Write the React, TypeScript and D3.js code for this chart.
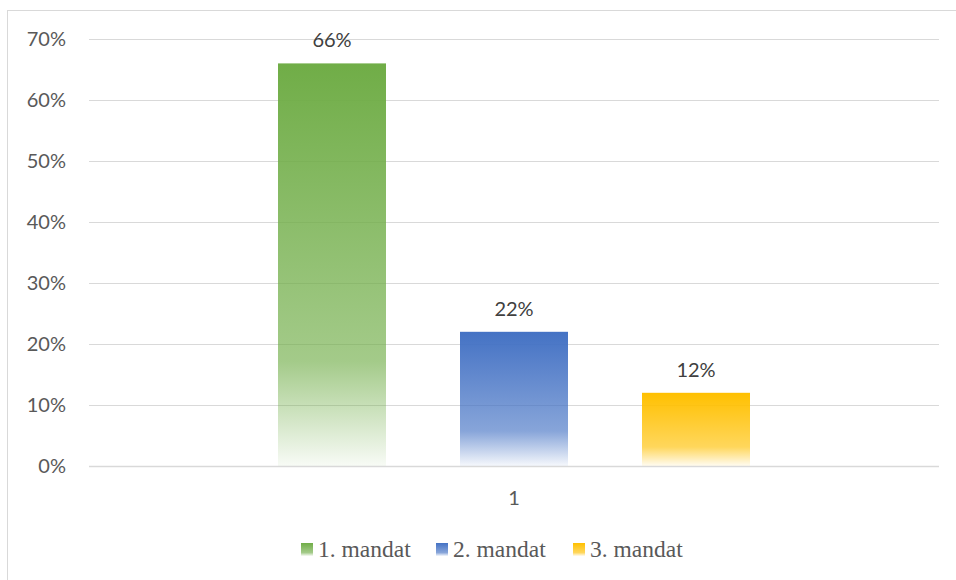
import React from "react";
import * as d3 from "d3";

const categories = ["1"];
const seriesNames = ["1. mandat", "2. mandat", "3. mandat"];
const seriesValues = [0.66, 0.22, 0.12];
const seriesColors = ["#70AD47", "#4472C4", "#FFC000"];
const yTicks = [0, 0.1, 0.2, 0.3, 0.4, 0.5, 0.6, 0.7];

const W = 956;
const H = 580;
const plot = { left: 89, right: 939, top: 39, bottom: 466 };

export default function App() {
  const y = d3.scaleLinear().domain([0, 0.7]).range([plot.bottom, plot.top]);
  const x0 = d3
    .scaleBand()
    .domain(categories)
    .range([plot.left, plot.right])
    .paddingInner(0)
    .paddingOuter(0);
  const groupWidth = 472;
  const x1 = d3
    .scaleBand()
    .domain(seriesNames)
    .range([0, groupWidth])
    .paddingInner(74 / 182)
    .paddingOuter(0);
  const fmt = d3.format(".0%");
  const legendX = [301, 436, 573];

  return (
    <svg
      width={W}
      height={H}
      style={{ position: "absolute", left: 0, top: 0, background: "#fff" }}
    >
      <defs>
        {seriesColors.map((c, i) => (
          <linearGradient key={i} id={`g${i}`} x1="0" y1="0" x2="0" y2="1">
            <stop offset="0" stopColor={c} stopOpacity={1} />
            <stop offset="0.74" stopColor={c} stopOpacity={0.64} />
            <stop offset="1" stopColor={c} stopOpacity={0.05} />
          </linearGradient>
        ))}
      </defs>
      <rect x={7.5} y={10.5} width={1000} height={700} fill="#fff" stroke="#D9D9D9" strokeWidth={1} />
      {yTicks.map((t) => (
        <g key={t}>
          <line
            x1={plot.left}
            x2={plot.right}
            y1={Math.round(y(t)) + 0.5}
            y2={Math.round(y(t)) + 0.5}
            stroke="#D9D9D9"
            strokeWidth={t === 0 ? 1.5 : 1}
          />
          <text
            x={66}
            y={y(t)}
            dy="0.36em"
            textAnchor="end"
            fontFamily="Lato, 'Open Sans', sans-serif"
            fontSize={20}
            fill="#595959"
          >
            {fmt(t)}
          </text>
        </g>
      ))}
      {categories.map((cat) => {
        const cx = (x0(cat) as number) + x0.bandwidth() / 2;
        const gx = cx - groupWidth / 2;
        return (
          <g key={cat}>
            {seriesNames.map((s, i) => {
              const bx = gx + (x1(s) as number);
              const bw = x1.bandwidth();
              const v = seriesValues[i];
              return (
                <g key={s}>
                  <rect
                    x={bx}
                    y={y(v)}
                    width={bw}
                    height={y(0) - y(v)}
                    fill={`url(#g${i})`}
                  />
                  <text
                    x={bx + bw / 2}
                    y={y(v) - 16}
                    textAnchor="middle"
                    fontFamily="Lato, 'Open Sans', sans-serif"
                    fontSize={20}
                    fill="#404040"
                  >
                    {fmt(v)}
                  </text>
                </g>
              );
            })}
            <text
              x={cx}
              y={505}
              textAnchor="middle"
              fontFamily="Lato, 'Open Sans', sans-serif"
              fontSize={20}
              fill="#595959"
            >
              {cat}
            </text>
          </g>
        );
      })}
      {seriesNames.map((s, i) => (
        <g key={s}>
          <rect x={legendX[i]} y={543} width={12} height={13} fill={`url(#g${i})`} />
          <text
            x={legendX[i] + 17}
            y={557}
            fontFamily="'Liberation Serif', 'Times New Roman', serif"
            fontSize={23.5}
            fill="#595959"
          >
            {s}
          </text>
        </g>
      ))}
    </svg>
  );
}
